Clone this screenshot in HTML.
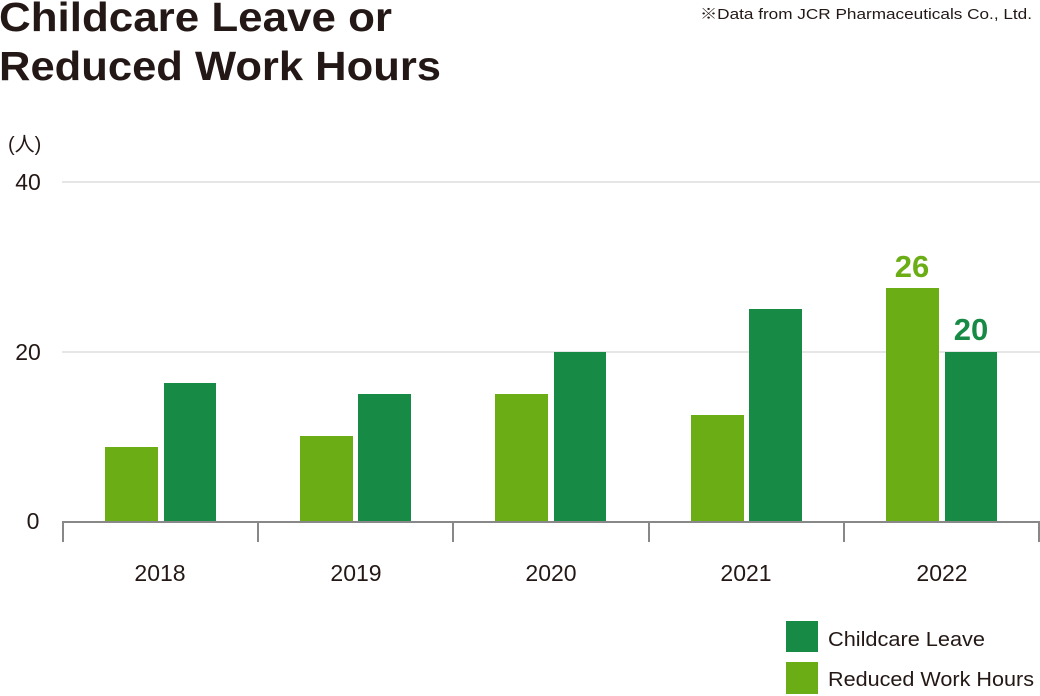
<!DOCTYPE html>
<html><head><meta charset="utf-8"><style>
body{margin:0;background:#fff;}
svg{display:block;font-family:"Liberation Sans","Noto Sans CJK JP",sans-serif;}
</style></head><body>
<svg width="1040" height="696" viewBox="0 0 1040 696" xmlns="http://www.w3.org/2000/svg">
<text x="-1" y="31" font-size="41" font-weight="bold" fill="#231815" textLength="393" lengthAdjust="spacingAndGlyphs">Childcare Leave or</text>
<text x="-1" y="80" font-size="41" font-weight="bold" fill="#231815" textLength="442" lengthAdjust="spacingAndGlyphs">Reduced Work Hours</text>
<text x="1032" y="19" font-size="14.5" fill="#231815" text-anchor="end" textLength="332" lengthAdjust="spacingAndGlyphs">※Data from JCR Pharmaceuticals Co., Ltd.</text>
<text x="8" y="151" font-size="20" fill="#231815">(人)</text>
<g font-size="23" fill="#231815" text-anchor="middle">
<text x="28" y="190">40</text><text x="28" y="360">20</text><text x="33" y="529">0</text>
</g>
<line x1="62" y1="182" x2="1040" y2="182" stroke="#ddd" stroke-width="1.5"/>
<line x1="62" y1="352" x2="1040" y2="352" stroke="#ddd" stroke-width="1.5"/>
<g fill="#6aad14">
<rect x="105" y="447" width="53" height="75"/>
<rect x="300" y="436" width="53" height="86"/>
<rect x="495" y="394" width="53" height="128"/>
<rect x="691" y="415" width="53" height="107"/>
<rect x="886" y="288" width="53" height="234"/>
</g>
<g fill="#178a45">
<rect x="164" y="383" width="52" height="139"/>
<rect x="358" y="394" width="53" height="128"/>
<rect x="554" y="352" width="52" height="170"/>
<rect x="749" y="309" width="53" height="213"/>
<rect x="945" y="352" width="52" height="170"/>
</g>
<g stroke="#888" stroke-width="2" fill="none">
<line x1="63" y1="522" x2="1040" y2="522"/>
<line x1="63" y1="521" x2="63" y2="542"/>
<line x1="258" y1="521" x2="258" y2="542"/>
<line x1="453" y1="521" x2="453" y2="542"/>
<line x1="649" y1="521" x2="649" y2="542"/>
<line x1="844" y1="521" x2="844" y2="542"/>
<line x1="1039" y1="521" x2="1039" y2="542"/>
</g>
<g font-size="23" fill="#231815" text-anchor="middle">
<text x="160" y="581">2018</text><text x="356" y="581">2019</text><text x="551" y="581">2020</text><text x="746" y="581">2021</text><text x="942" y="581">2022</text>
</g>
<text x="912" y="277" font-size="31" font-weight="bold" fill="#6aad14" text-anchor="middle">26</text>
<text x="971" y="340" font-size="31" font-weight="bold" fill="#178a45" text-anchor="middle">20</text>
<rect x="786" y="621" width="32" height="31" fill="#178a45"/>
<rect x="786" y="662" width="32" height="32" fill="#6aad14"/>
<text x="828" y="646" font-size="20" fill="#231815" textLength="157" lengthAdjust="spacingAndGlyphs">Childcare Leave</text>
<text x="828" y="686" font-size="20" fill="#231815" textLength="206" lengthAdjust="spacingAndGlyphs">Reduced Work Hours</text>
</svg>
</body></html>
